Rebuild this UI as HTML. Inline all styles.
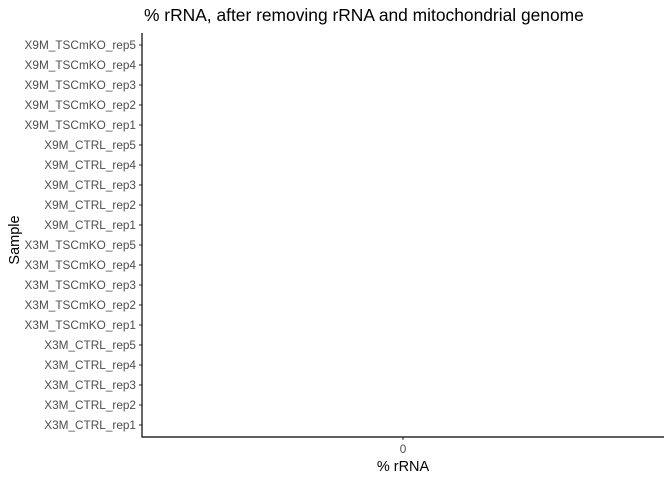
<!DOCTYPE html>
<html><head><meta charset="utf-8">
<style>
body{margin:0;background:#fff;width:672px;height:480px;overflow:hidden;font-family:"Liberation Sans",Arial,sans-serif;}
</style></head>
<body>
<svg id="chart" width="672" height="480" xmlns="http://www.w3.org/2000/svg">
<text x="144" y="21" text-anchor="start" font-size="17.4" fill="#000">% rRNA, after removing rRNA and mitochondrial genome</text>
<text x="403" y="471" text-anchor="middle" font-size="14.5" fill="#000">% rRNA</text>
<text transform="translate(19,240) rotate(-90)" text-anchor="middle" font-size="14.5" fill="#000">Sample</text>
<g id="bars"></g>
<g id="yaxis"></g>
<g id="xaxis"></g>
</svg>
<script>
const categories = ["X3M_CTRL_rep1","X3M_CTRL_rep2","X3M_CTRL_rep3","X3M_CTRL_rep4","X3M_CTRL_rep5",
"X3M_TSCmKO_rep1","X3M_TSCmKO_rep2","X3M_TSCmKO_rep3","X3M_TSCmKO_rep4","X3M_TSCmKO_rep5",
"X9M_CTRL_rep1","X9M_CTRL_rep2","X9M_CTRL_rep3","X9M_CTRL_rep4","X9M_CTRL_rep5",
"X9M_TSCmKO_rep1","X9M_TSCmKO_rep2","X9M_TSCmKO_rep3","X9M_TSCmKO_rep4","X9M_TSCmKO_rep5"];
const values = [0,0,0,0,0,0,0,0,0,0,0,0,0,0,0,0,0,0,0,0];
const xTicks = [0];
const xTickLabels = ["0"];
const xDomain = [-0.05, 0.05];

const NS="http://www.w3.org/2000/svg";
const L=142,R=664,T=33,B=437;
const step=(B-T)/(categories.length+0.2);
function xScale(v){return L+(v-xDomain[0])/(xDomain[1]-xDomain[0])*(R-L);}
function yScale(i){return B-step*(0.6+i);}
function mk(tag,attrs,parent){const e=document.createElementNS(NS,tag);for(const k in attrs)e.setAttribute(k,attrs[k]);parent.appendChild(e);return e;}

const bars=document.getElementById('bars'),ya=document.getElementById('yaxis'),xa=document.getElementById('xaxis');
categories.forEach((c,i)=>{
  const y=yScale(i);
  const x0=xScale(0),x1=xScale(values[i]);
  const r=mk('rect',{x:Math.min(x0,x1),y:y-step*0.45,width:Math.abs(x1-x0),height:step*0.9,fill:'#595959'},bars);
  
  
  const t=mk('line',{x1:L-3,x2:L,y1:y,y2:y,stroke:'#333','stroke-width':1},ya);
  
  
  const lb=mk('text',{x:L-6,y:y+4,'text-anchor':'end','font-size':11.8,fill:'#4d4d4d'},ya);
  lb.textContent=c;
  
  
});
xTicks.forEach((v,i)=>{
  const x=xScale(v);
  const t=mk('line',{x1:x,x2:x,y1:B,y2:B+3,stroke:'#333','stroke-width':1},xa);
  
  
  const lb=mk('text',{x:x,y:B+16,'text-anchor':'middle','font-size':11.8,fill:'#4d4d4d'},xa);
  lb.textContent=xTickLabels[i];
  
  
});
const yl=mk('line',{x1:L,x2:L,y1:T,y2:B+0.5,stroke:'#000','stroke-width':1.2},ya);


const xl=mk('line',{x1:L-0.5,x2:R,y1:B,y2:B,stroke:'#000','stroke-width':1.2},xa);


</script>
</body></html>
